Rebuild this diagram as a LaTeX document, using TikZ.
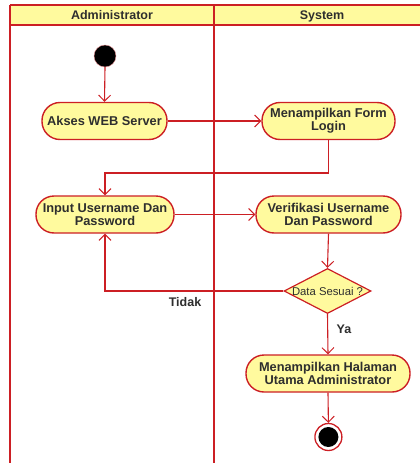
\documentclass[tikz,border=0pt]{standalone}
\usepackage{fontspec}
\setmainfont{Liberation Sans}
\usetikzlibrary{arrows.meta,shapes.geometric}
\definecolor{lred}{HTML}{CC1F24}
\definecolor{lyel}{HTML}{FFFA9E}
\definecolor{txt}{HTML}{2E2E2E}
\tikzset{
  x=1pt,y=-1pt,
  act/.style={draw=lred,line width=1.4pt,fill=lyel,rounded corners=18pt,minimum height=37pt,align=center,font=\bfseries\fontsize{12.8}{13}\selectfont,text=txt,inner sep=2pt},
  dec/.style={draw=lred,line width=1.2pt,fill=lyel,diamond,aspect=1.93,minimum width=85pt,minimum height=44pt,inner sep=0pt,font=\fontsize{11.3}{12}\selectfont,text=txt},
  flow/.style={color=lred,line width=1.1pt,-{Straight Barb[length=6pt,width=12pt,line width=1pt]}},
  lane/.style={draw=lred,line width=2pt},
  lbl/.style={font=\bfseries\fontsize{12.5}{13}\selectfont,text=txt,text height=9pt,text depth=2.5pt,inner sep=0pt},
}
\begin{document}
\begin{tikzpicture}
\useasboundingbox (0,0) rectangle (420,463);
\begin{scope}
\clip (0,0) rectangle (420,463);
\fill[lyel] (10,5) rectangle (430,25);
\draw[lane] (10,5) -- (430,5);
\draw[lane] (10,25) -- (430,25);
\draw[lane] (10,5) -- (10,470);
\draw[lane] (214,5) -- (214,470);
\end{scope}
\node[lbl] (hA) at (112,16) {Administrator};
\node[lbl] (hS) at (322,16) {System};
% nodes
\node[circle,fill=black,draw=lred!50,line width=0.4pt,minimum size=22pt,inner sep=0pt] (init) at (105,56) {};
\node[act,minimum width=125pt] (akses) at (104.5,121) {Akses WEB Server};
\node[act,minimum width=133pt] (form) at (328.5,121) {Menampilkan Form\\Login};
\node[act,minimum width=138pt] (input) at (105,214.5) {Input Username Dan\\Password};
\node[act,minimum width=145pt] (verif) at (328.5,214.5) {Verifikasi Username\\Dan Password};
\node[dec] (data) at (327.5,291) {Data Sesuai ?};
\node[act,minimum width=164pt] (utama) at (328,373.5) {Menampilkan Halaman\\Utama Administrator};
\node[circle,draw=lred,line width=1.3pt,fill=white,minimum size=27pt,inner sep=0pt] (fin) at (328.4,437) {};
\fill[black] (fin.center) circle[radius=10pt];
% flows
\draw[flow] (init.south) -- (akses.north);
\draw[flow] (akses.east) -- (form.west);
\draw[flow] (form.south) |- (105,173) -- (input.north);
\draw[flow] (input.east) -- (verif.west);
\draw[flow] (verif.south) -- (data.north);
\draw[flow] (data.west) -| (input.south);
\draw[flow] (data.south) -- (utama.north);
\draw[flow] (utama.south) -- (fin.north);
\node[lbl] (tidak) at (185,303) {Tidak};
\node[lbl] (ya) at (344,330) {Ya};
\end{tikzpicture}
\end{document}
